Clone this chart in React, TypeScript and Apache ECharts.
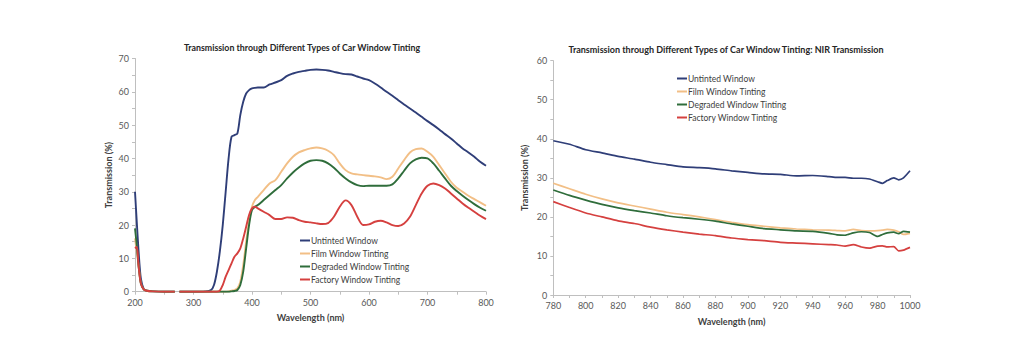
import React, { useEffect, useRef } from "react";
import * as echarts from "echarts";

const SERIES_NAMES = ["Untinted Window", "Film Window Tinting", "Degraded Window Tinting", "Factory Window Tinting"];
const COLORS = ["#2f3e78", "#f2bf86", "#2f6d3b", "#d5403f"];

const LEFT_TITLE = "Transmission through Different Types of Car Window Tinting";
const RIGHT_TITLE = "Transmission through Different Types of Car Window Tinting: NIR Transmission";
const X_NAME = "Wavelength (nm)";
const Y_NAME = "Transmission (%)";

const LEFT_WL = [200, 203, 206, 210, 215, 220, 230, 250, 268, 272, 276, 300, 320, 330, 335, 340, 345, 350, 355, 360, 365, 370, 375, 380, 385, 390, 395, 400, 405, 410, 420, 430, 440, 450, 460, 470, 480, 490, 500, 510, 520, 530, 540, 550, 560, 570, 580, 590, 600, 610, 620, 630, 640, 650, 660, 670, 680, 690, 700, 710, 720, 730, 740, 750, 760, 770, 780, 790, 800];

const LEFT_UNTINTED = [30, 21, 12.5, 4, 0.8, 0.3, 0.1, 0, 0, null, 0, 0, 0.1, 0.5, 2, 6, 12, 20, 30, 40, 46.5, 47, 47.5, 53, 57, 59.5, 60.5, 61, 61.2, 61.3, 61.3, 62.2, 62.8, 63.5, 64.8, 65.5, 66, 66.3, 66.6, 66.7, 66.6, 66.4, 66, 65.6, 65.3, 65.2, 64.6, 64, 63.5, 62.5, 61.3, 60, 58.8, 57.5, 56.2, 55, 53.8, 52.5, 51.2, 50, 48.7, 47.3, 46, 44.5, 43, 41.8, 40.5, 39, 37.8];
const LEFT_FILM = [16, 12, 8, 2.5, 0.7, 0.3, 0.1, 0, 0, null, 0, 0, 0, 0, 0, 0, 0, 0, 0, 0.1, 0.3, 0.5, 1, 3, 8, 15, 21, 25.5, 27.5, 28.5, 30.5, 32.5, 33.5, 36, 38.5, 40.5, 41.8, 42.5, 43, 43.3, 43, 42.3, 41, 38.5, 36.5, 35.5, 35.2, 35, 34.8, 34.6, 34.3, 33.8, 34.5, 37, 39.5, 41.8, 42.8, 43, 42, 40.5, 38, 35.5, 33, 31.2, 30, 28.8, 27.8, 26.8, 25.8];
const LEFT_DEGRADED = [19, 14, 8, 2.5, 0.7, 0.3, 0.1, 0, 0, null, 0, 0, 0, 0, 0, 0, 0, 0, 0, 0, 0.1, 0.2, 0.5, 2, 6, 13, 20, 24.5, 25.5, 26, 27.5, 29, 30.5, 32, 34, 35.8, 37.3, 38.5, 39.3, 39.5, 39.3, 38.5, 37.2, 35.5, 34, 32.8, 32, 31.7, 31.8, 31.8, 31.8, 31.8, 32.2, 34, 36.3, 38.5, 39.7, 40.2, 40, 38.5, 36.3, 34, 31.8, 30.2, 28.8, 27.5, 26.3, 25.2, 24.3];
const LEFT_FACTORY = [13, 13.5, 8, 2.5, 0.7, 0.3, 0.1, 0, 0, null, 0, 0, 0, 0, 0, 0, 0.3, 2, 4.5, 6.5, 8.5, 10.5, 11.5, 13, 16, 19.5, 23, 25, 25.5, 25, 24, 23, 21.8, 21.8, 22.3, 22.2, 21.5, 21, 20.8, 20.5, 20.3, 20.6, 22.5, 25.5, 27.4, 26, 22.5, 20, 20.2, 21, 21.3, 20.8, 20, 19.7, 20.5, 22.5, 26, 29.5, 31.8, 32.5, 32, 31, 29.5, 28, 26.5, 25.2, 24, 22.8, 21.8];

const RIGHT_WL = [780, 790, 800, 810, 820, 830, 840, 850, 860, 870, 880, 890, 900, 910, 920, 930, 940, 950, 955, 960, 965, 970, 975, 980, 983, 986, 990, 993, 996, 1000];
const RIGHT_UNTINTED = [39.5, 38.6, 37.2, 36.4, 35.5, 34.8, 34, 33.4, 32.8, 32.6, 32.3, 31.8, 31.4, 31, 30.9, 30.5, 30.6, 30.3, 30.1, 30.1, 29.9, 29.9, 29.7, 29, 28.6, 29.3, 30, 29.5, 30, 31.8];
const RIGHT_FILM = [28.6, 27.2, 25.8, 24.6, 23.6, 22.8, 22, 21.2, 20.6, 20, 19.3, 18.6, 18, 17.6, 17.2, 16.9, 16.7, 16.6, 16.5, 16.4, 16.8, 16.5, 16.4, 16.5, 16.6, 16.8, 16.6, 16.2, 15.5, 15.8];
const RIGHT_DEGRADED = [26.9, 25.5, 24.3, 23.2, 22.3, 21.6, 21, 20.3, 19.8, 19.4, 18.9, 18.2, 17.6, 17, 16.7, 16.4, 16.3, 15.8, 15.4, 15.3, 15.9, 16.2, 16, 15, 15.5, 15.9, 16.1, 15.7, 16.3, 16.1];
const RIGHT_FACTORY = [23.9, 22.4, 21, 20, 19, 18.3, 17.4, 16.7, 16.1, 15.6, 15.2, 14.6, 14.2, 13.9, 13.5, 13.3, 13.1, 12.9, 12.8, 12.5, 12.9, 12.3, 12, 12.5, 12.6, 12.3, 12.4, 11.3, 11.5, 12.2];

const FONT = "Lato";
const AXIS_GRAY = "#bfbfbf";
const LABEL_GRAY = "#595959";

function pairs(xs: number[], ys: (number | null)[]) {
  return xs.map((x, i) => [x, ys[i]]);
}

function makeAxisX(gridIndex: number, min: number, max: number, interval: number, nameGap: number) {
  return {
    type: "value",
    gridIndex,
    min,
    max,
    interval,
    name: X_NAME,
    nameLocation: "middle",
    nameGap,
    nameTextStyle: { fontFamily: FONT, fontSize: 9, fontWeight: "bold", color: "#404040" },
    axisLine: { show: true, lineStyle: { color: AXIS_GRAY, width: 1 } },
    axisTick: { show: true, length: 3, lineStyle: { color: AXIS_GRAY } },
    minorTick: { show: true, splitNumber: 2, length: 3, lineStyle: { color: AXIS_GRAY } },
    splitLine: { show: false },
    axisLabel: {
      fontFamily: FONT,
      fontSize: 9,
      color: LABEL_GRAY,
      margin: 6,
      formatter: (v: number) => String(v),
    },
  };
}

function makeAxisY(gridIndex: number, max: number, nameGap: number) {
  return {
    type: "value",
    gridIndex,
    min: 0,
    max,
    interval: 10,
    name: Y_NAME,
    nameLocation: "middle",
    nameGap,
    nameRotate: 90,
    nameTextStyle: { fontFamily: FONT, fontSize: 9, fontWeight: "bold", color: "#404040" },
    axisLine: { show: true, lineStyle: { color: AXIS_GRAY, width: 1 } },
    axisTick: { show: true, length: 3, lineStyle: { color: AXIS_GRAY } },
    minorTick: { show: true, splitNumber: 2, length: 3, lineStyle: { color: AXIS_GRAY } },
    splitLine: { show: false },
    axisLabel: { fontFamily: FONT, fontSize: 9, color: LABEL_GRAY, margin: 6 },
  };
}

export default function App() {
  const ref = useRef<HTMLDivElement>(null);
  useEffect(() => {
    if (!ref.current) return;
    const chart = echarts.init(ref.current, null, { renderer: "svg" });
    const leftSets = [LEFT_UNTINTED, LEFT_FILM, LEFT_DEGRADED, LEFT_FACTORY];
    const rightSets = [RIGHT_UNTINTED, RIGHT_FILM, RIGHT_DEGRADED, RIGHT_FACTORY];
    const series: any[] = [];
    SERIES_NAMES.forEach((name, i) => {
      series.push({
        type: "line",
        name,
        xAxisIndex: 0,
        yAxisIndex: 0,
        data: pairs(LEFT_WL, leftSets[i]),
        showSymbol: false,
        smooth: 0.3,
        connectNulls: false,
        lineStyle: { color: COLORS[i], width: 1.9 },
        itemStyle: { color: COLORS[i] },
        z: 10 + i,
      });
    });
    SERIES_NAMES.forEach((name, i) => {
      series.push({
        type: "line",
        name,
        xAxisIndex: 1,
        yAxisIndex: 1,
        data: pairs(RIGHT_WL, rightSets[i]),
        showSymbol: false,
        smooth: 0.2,
        lineStyle: { color: COLORS[i], width: 1.7 },
        itemStyle: { color: COLORS[i] },
        z: 10 + i,
      });
    });
    const legendCommon = {
      orient: "vertical",
      icon: "rect",
      itemWidth: 10,
      itemHeight: 2,
      itemGap: 4,
      selectedMode: false,
      textStyle: { fontFamily: FONT, fontSize: 8.5, color: "#404040", padding: [0, 0, 0, -4] },
      data: SERIES_NAMES,
    };
    chart.setOption({
      animation: false,
      backgroundColor: "#ffffff",
      title: [
        {
          text: LEFT_TITLE,
          left: 297,
          top: 38,
          textAlign: "center",
          textStyle: { fontFamily: FONT, fontSize: 8.8, fontWeight: "bold", color: "#262626" },
        },
        {
          text: RIGHT_TITLE,
          left: 721,
          top: 40,
          textAlign: "center",
          textStyle: { fontFamily: FONT, fontSize: 9, fontWeight: "bold", color: "#262626" },
        },
      ],
      legend: [
        { ...legendCommon, left: 295, top: 231 },
        { ...legendCommon, left: 672, top: 69 },
      ],
      grid: [
        { left: 135, top: 58.5, width: 351, height: 233.2, containLabel: false },
        { left: 553.3, top: 60.7, width: 356.7, height: 234.3, containLabel: false },
      ],
      xAxis: [makeAxisX(0, 200, 800, 100, 21), makeAxisX(1, 780, 1000, 20, 22)],
      yAxis: [makeAxisY(0, 70, 22), makeAxisY(1, 60, 24)],
      series,
    });
    return () => chart.dispose();
  }, []);
  return (
    <div
      ref={ref}
      style={{ position: "fixed", left: 0, top: 0, width: 1024, height: 347, background: "#fff" }}
    />
  );
}
